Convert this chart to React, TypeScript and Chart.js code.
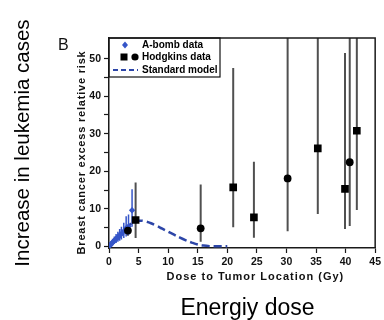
import React, { useEffect, useRef } from 'react';
import { Chart, registerables } from 'chart.js';

Chart.register(...registerables);

const FONT = '"Liberation Sans", Arial, Helvetica, sans-serif';

// Axis ticks
const xTickValues = [0, 5, 10, 15, 20, 25, 30, 35, 40, 45];
const yTickValues = [0, 5, 10, 15, 20, 25, 30, 35, 40, 45, 50];
const yLabelledTicks = [0, 10, 20, 30, 40, 50];

// A-bomb data (blue diamonds)
const aBombDose = [0.05, 0.2, 0.4, 0.6, 0.9, 1.2, 1.5, 1.8, 2.1, 2.5, 2.9, 3.3, 3.9];
const aBombRisk = [0.1, 0.3, 0.7, 1.0, 1.5, 2.0, 2.4, 2.9, 3.3, 4.0, 4.8, 5.3, 9.6];
const aBombLow = [0, 0, 0.1, 0.3, 0.6, 0.9, 1.2, 1.5, 1.8, 2.2, 2.6, 3.0, 5.2];
const aBombHigh = [0.4, 0.8, 1.5, 2.0, 2.6, 3.3, 3.9, 4.6, 5.2, 6.3, 8.0, 8.5, 15.2];

// Hodgkins data (black squares)
const hodgSqDose = [4.5, 21.0, 24.5, 35.3, 39.9, 41.9];
const hodgSqRisk = [7.0, 15.7, 7.7, 26.1, 15.3, 30.8];
const hodgSqLow = [2.2, 5.1, 2.3, 8.6, 4.6, 9.7];
const hodgSqHigh = [17.0, 47.5, 22.5, 70, 51.5, 70];

// Hodgkins data (black circles)
const hodgCiDose = [3.2, 15.5, 30.2, 40.7];
const hodgCiRisk = [4.2, 4.8, 18.1, 22.4];
const hodgCiLow = [2.8, 1.2, 4.0, 5.4];
const hodgCiHigh = [5.6, 16.5, 70, 70];

// Standard model (dashed blue curve)
const modelDose = [0, 1, 2, 3, 4, 5, 6, 7, 8, 9, 10, 11, 12, 13, 14, 15, 16, 17, 18, 19, 20];
const modelRisk = [0, 1.7, 3.4, 5.0, 6.3, 6.8, 6.7, 6.2, 5.5, 4.7, 3.9, 3.1, 2.3, 1.6, 1.0, 0.5, 0.2, 0.05, 0, 0, 0];

const BLUE_PT = '#3555c8';
const BLUE_LINE = '#2d46a8';
const ERR_GRAY = '#505050';
const AXIS = '#1a1a1a';

const toXY = (xs: number[], ys: number[]) => xs.map((v, i) => ({ x: v, y: ys[i] }));

const decorPlugin = {
  id: 'decor',
  beforeDatasetsDraw(chart: any) {
    const { ctx, chartArea: a, scales } = chart;
    const x = scales.x;
    const y = scales.y;
    ctx.save();
    ctx.beginPath();
    ctx.rect(a.left, a.top, a.right - a.left, a.bottom - a.top);
    ctx.clip();
    const bars = (dose: number[], low: number[], high: number[], color: string, w: number) => {
      ctx.strokeStyle = color;
      ctx.lineWidth = w;
      ctx.beginPath();
      dose.forEach((d, i) => {
        const px = x.getPixelForValue(d);
        ctx.moveTo(px, y.getPixelForValue(low[i]));
        ctx.lineTo(px, y.getPixelForValue(high[i]));
      });
      ctx.stroke();
    };
    bars(hodgSqDose, hodgSqLow, hodgSqHigh, ERR_GRAY, 2);
    bars(hodgCiDose, hodgCiLow, hodgCiHigh, ERR_GRAY, 2);
    bars(aBombDose, aBombLow, aBombHigh, BLUE_PT, 1.5);
    ctx.restore();
  },
  afterDraw(chart: any) {
    const { ctx, chartArea: a } = chart;
    ctx.save();
    // frame top & right
    ctx.strokeStyle = AXIS;
    ctx.lineWidth = 1.5;
    ctx.beginPath();
    ctx.moveTo(a.left, a.top);
    ctx.lineTo(a.right, a.top);
    ctx.lineTo(a.right, a.bottom);
    ctx.stroke();

    // legend box
    const L = a.left;
    const T = a.top;
    ctx.lineWidth = 1.2;
    ctx.strokeStyle = '#111';
    ctx.strokeRect(L, T, 111, 39);

    // row 1: diamond
    ctx.fillStyle = BLUE_PT;
    ctx.beginPath();
    const dx = L + 16, dy = T + 7;
    ctx.moveTo(dx, dy - 3.5);
    ctx.lineTo(dx + 3, dy);
    ctx.lineTo(dx, dy + 3.5);
    ctx.lineTo(dx - 3, dy);
    ctx.closePath();
    ctx.fill();
    // row 2: square + circle
    ctx.fillStyle = '#000';
    ctx.fillRect(L + 11.5, T + 15.5, 7, 7);
    ctx.beginPath();
    ctx.arc(L + 26, T + 19, 3.6, 0, Math.PI * 2);
    ctx.fill();
    // row 3: dashed line
    ctx.strokeStyle = BLUE_LINE;
    ctx.lineWidth = 2;
    ctx.setLineDash([5, 3]);
    ctx.beginPath();
    ctx.moveTo(L + 4, T + 32);
    ctx.lineTo(L + 29, T + 32);
    ctx.stroke();
    ctx.setLineDash([]);

    ctx.fillStyle = '#000';
    ctx.font = `bold 10px ${FONT}`;
    ctx.textBaseline = 'middle';
    ctx.textAlign = 'left';
    ctx.fillText('A-bomb data', L + 33, T + 7);
    ctx.fillText('Hodgkins data', L + 33, T + 19);
    ctx.fillText('Standard model', L + 33, T + 32);

    // axis titles
    ctx.fillStyle = '#111';
    ctx.font = `bold 11px ${FONT}`;
    (ctx as any).letterSpacing = '1px';
    ctx.textAlign = 'center';
    ctx.textBaseline = 'alphabetic';
    ctx.fillText('Dose to Tumor Location (Gy)', a.left + (a.right - a.left) * 0.55, a.bottom + 31.5);

    ctx.translate(85, a.top + (a.bottom - a.top) * 0.545);
    ctx.rotate(-Math.PI / 2);
    (ctx as any).letterSpacing = '0.8px';
    ctx.fillText('Breast cancer excess relative risk', 0, 0);
    ctx.restore();
  },
};

export default function App() {
  const ref = useRef<HTMLCanvasElement | null>(null);

  useEffect(() => {
    if (!ref.current) return;
    const tickFont = { family: FONT, size: 10.5, weight: 'bold' as const };
    const chart = new Chart(ref.current, {
      type: 'scatter',
      data: {
        datasets: [
          {
            label: 'Hodgkins data (squares)',
            data: toXY(hodgSqDose, hodgSqRisk),
            pointStyle: 'rect',
            pointRadius: 5.4,
            backgroundColor: '#000',
            borderColor: '#000',
            borderWidth: 0,
          },
          {
            label: 'Hodgkins data (circles)',
            data: toXY(hodgCiDose, hodgCiRisk),
            pointStyle: 'circle',
            pointRadius: 3.9,
            backgroundColor: '#000',
            borderColor: '#000',
            borderWidth: 0,
          },
          {
            label: 'A-bomb data',
            data: toXY(aBombDose, aBombRisk),
            pointStyle: 'rectRot',
            pointRadius: 3.2,
            backgroundColor: BLUE_PT,
            borderColor: BLUE_PT,
            borderWidth: 0,
          },
          {
            label: 'Standard model',
            data: toXY(modelDose, modelRisk),
            showLine: true,
            borderColor: BLUE_LINE,
            borderWidth: 2.5,
            borderDash: [8, 4],
            tension: 0.4,
            pointRadius: 0,
            fill: false,
          } as any,
        ],
      },
      options: {
        animation: false,
        responsive: false,
        maintainAspectRatio: false,
        layout: { padding: { left: 0, top: 38, right: 6, bottom: 0 } },
        plugins: {
          legend: { display: false },
          tooltip: { enabled: false },
          title: { display: false },
        },
        scales: {
          x: {
            type: 'linear',
            min: 0,
            max: 45,
            afterBuildTicks: (s: any) => {
              s.ticks = xTickValues.map((v) => ({ value: v }));
            },
            afterFit: (s: any) => {
              s.height = 72;
            },
            grid: {
              display: true,
              drawOnChartArea: false,
              drawTicks: true,
              tickLength: 5,
              tickWidth: 1.2,
              tickColor: AXIS,
              color: AXIS,
            },
            border: { display: true, color: AXIS, width: 1.5 },
            ticks: {
              color: '#111',
              font: tickFont,
              padding: 3,
              maxRotation: 0,
              autoSkip: false,
            },
            title: { display: false },
          },
          y: {
            type: 'linear',
            min: -0.45,
            max: 55.5,
            afterBuildTicks: (s: any) => {
              s.ticks = yTickValues.map((v) => ({ value: v }));
            },
            afterFit: (s: any) => {
              s.width = 109;
            },
            grid: {
              display: true,
              drawOnChartArea: false,
              drawTicks: true,
              tickLength: 5,
              tickWidth: 1.2,
              tickColor: AXIS,
              color: AXIS,
            },
            border: { display: true, color: AXIS, width: 1.5 },
            ticks: {
              color: '#111',
              font: tickFont,
              padding: 3,
              autoSkip: false,
              callback: (v: any) => (yLabelledTicks.includes(Number(v)) ? String(v) : ''),
            },
            title: { display: false },
          },
        },
      },
      plugins: [decorPlugin],
    });
    return () => chart.destroy();
  }, []);

  return (
    <div
      style={{
        position: 'fixed',
        left: 0,
        top: 0,
        width: 384,
        height: 320,
        background: '#fff',
        overflow: 'hidden',
        fontFamily: FONT,
      }}
    >
      <canvas ref={ref} width={384} height={320} style={{ position: 'absolute', left: 0, top: 0, width: 384, height: 320 }} />
      <div
        style={{
          position: 'absolute',
          left: 58,
          top: 36.5,
          fontSize: 16,
          lineHeight: '16px',
          color: '#111',
        }}
      >
        B
      </div>
      <div
        style={{
          position: 'absolute',
          left: 22 - 150,
          top: 143 - 12,
          width: 300,
          height: 24,
          lineHeight: '24px',
          fontSize: 20.5,
          textAlign: 'center',
          color: '#000',
          transform: 'rotate(-90deg)',
          transformOrigin: '50% 50%',
          whiteSpace: 'nowrap',
        }}
      >
        Increase in leukemia cases
      </div>
      <div
        style={{
          position: 'absolute',
          left: 247.5 - 100,
          top: 295.5,
          width: 200,
          fontSize: 23,
          lineHeight: '23px',
          textAlign: 'center',
          color: '#000',
          whiteSpace: 'nowrap',
        }}
      >
        Energiy dose
      </div>
    </div>
  );
}
